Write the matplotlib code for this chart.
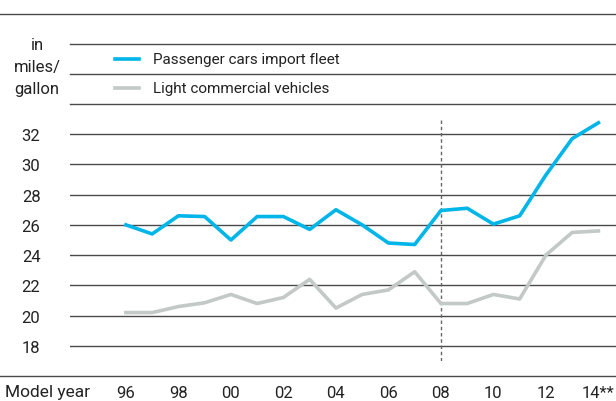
import matplotlib
matplotlib.use('Agg')
import matplotlib.pyplot as plt
from matplotlib.lines import Line2D

plt.rcParams['font.family'] = ['Roboto', 'DejaVu Sans']

# model years and values (miles per gallon)
years = list(range(1996, 2015))
cars = [26.0, 25.4, 26.6, 26.55, 25.0, 26.55, 26.55, 25.7, 27.0, 26.0,
        24.8, 24.7, 26.95, 27.1, 26.05, 26.6, 29.3, 31.7, 32.75]
lcv = [20.2, 20.2, 20.6, 20.85, 21.4, 20.8, 21.2, 22.4, 20.5, 21.4,
       21.7, 22.9, 20.8, 20.8, 21.4, 21.1, 24.0, 25.5, 25.6]
y_ticks = [18, 20, 22, 24, 26, 28, 30, 32]
x_ticks = [1996, 1998, 2000, 2002, 2004, 2006, 2008, 2010, 2012, 2014]
x_labels = ['96', '98', '00', '02', '04', '06', '08', '10', '12', '14**']

blue = '#00b5e8'
grey = '#c3c9c6'
line_col = '#4a4a4a'
txt = '#222222'

W, H = 616, 402
fig = plt.figure(figsize=(W / 100, H / 100), dpi=100)

# main plotting area
ax = fig.add_axes([70 / W, 40 / H, 546 / W, 242 / H])
ax.set_xlim(1993.87, 2014.67)
ax.set_ylim(17, 33)
for s in ax.spines.values():
    s.set_visible(False)

for v in y_ticks:
    ax.axhline(v, color=line_col, lw=1, zorder=1)
ax.axvline(2008, color='#666666', lw=1, ls=(0, (2.5, 2)), zorder=1)

ax.plot(years, lcv, color=grey, lw=2.6, zorder=3)
ax.plot(years, cars, color=blue, lw=2.6, zorder=4)

ax.set_yticks(y_ticks)
ax.set_yticklabels([str(v) for v in y_ticks], fontsize=12, color=txt)
ax.set_xticks(x_ticks)
ax.set_xticklabels(x_labels, fontsize=12, color=txt)
for t in ax.get_yticklabels():
    t.set_horizontalalignment('center')
ax.tick_params(axis='y', length=0, pad=28)
ax.tick_params(axis='x', length=0, pad=17)

# rules across the figure
def hline(y, x0, x1):
    fig.add_artist(Line2D([x0 / W, x1 / W], [1 - y / H, 1 - y / H],
                          color=line_col, lw=1))

hline(15, 0, W)
hline(45, 70, W)
hline(75, 70, W)
hline(105, 70, W)
hline(377, 0, W)

# legend
fig.add_artist(Line2D([115 / W, 139 / W], [1 - 60 / H] * 2, color=blue, lw=2.6))
fig.add_artist(Line2D([115 / W, 139 / W], [1 - 89 / H] * 2, color=grey, lw=2.6))
fig.text(153 / W, 1 - 60 / H, 'Passenger cars import fleet', fontsize=11,
         va='center', color=txt)
fig.text(153 / W, 1 - 89 / H, 'Light commercial vehicles', fontsize=11,
         va='center', color=txt)

fig.text(37 / W, 1 - 67.5 / H, 'in\nmiles/\ngallon', fontsize=12, ha='center',
         va='center', linespacing=1.6, color=txt)
fig.text(5 / W, 1 - 393 / H, 'Model year', fontsize=12.5, va='center',
         color=txt)

fig.savefig('out.png', dpi=100)
